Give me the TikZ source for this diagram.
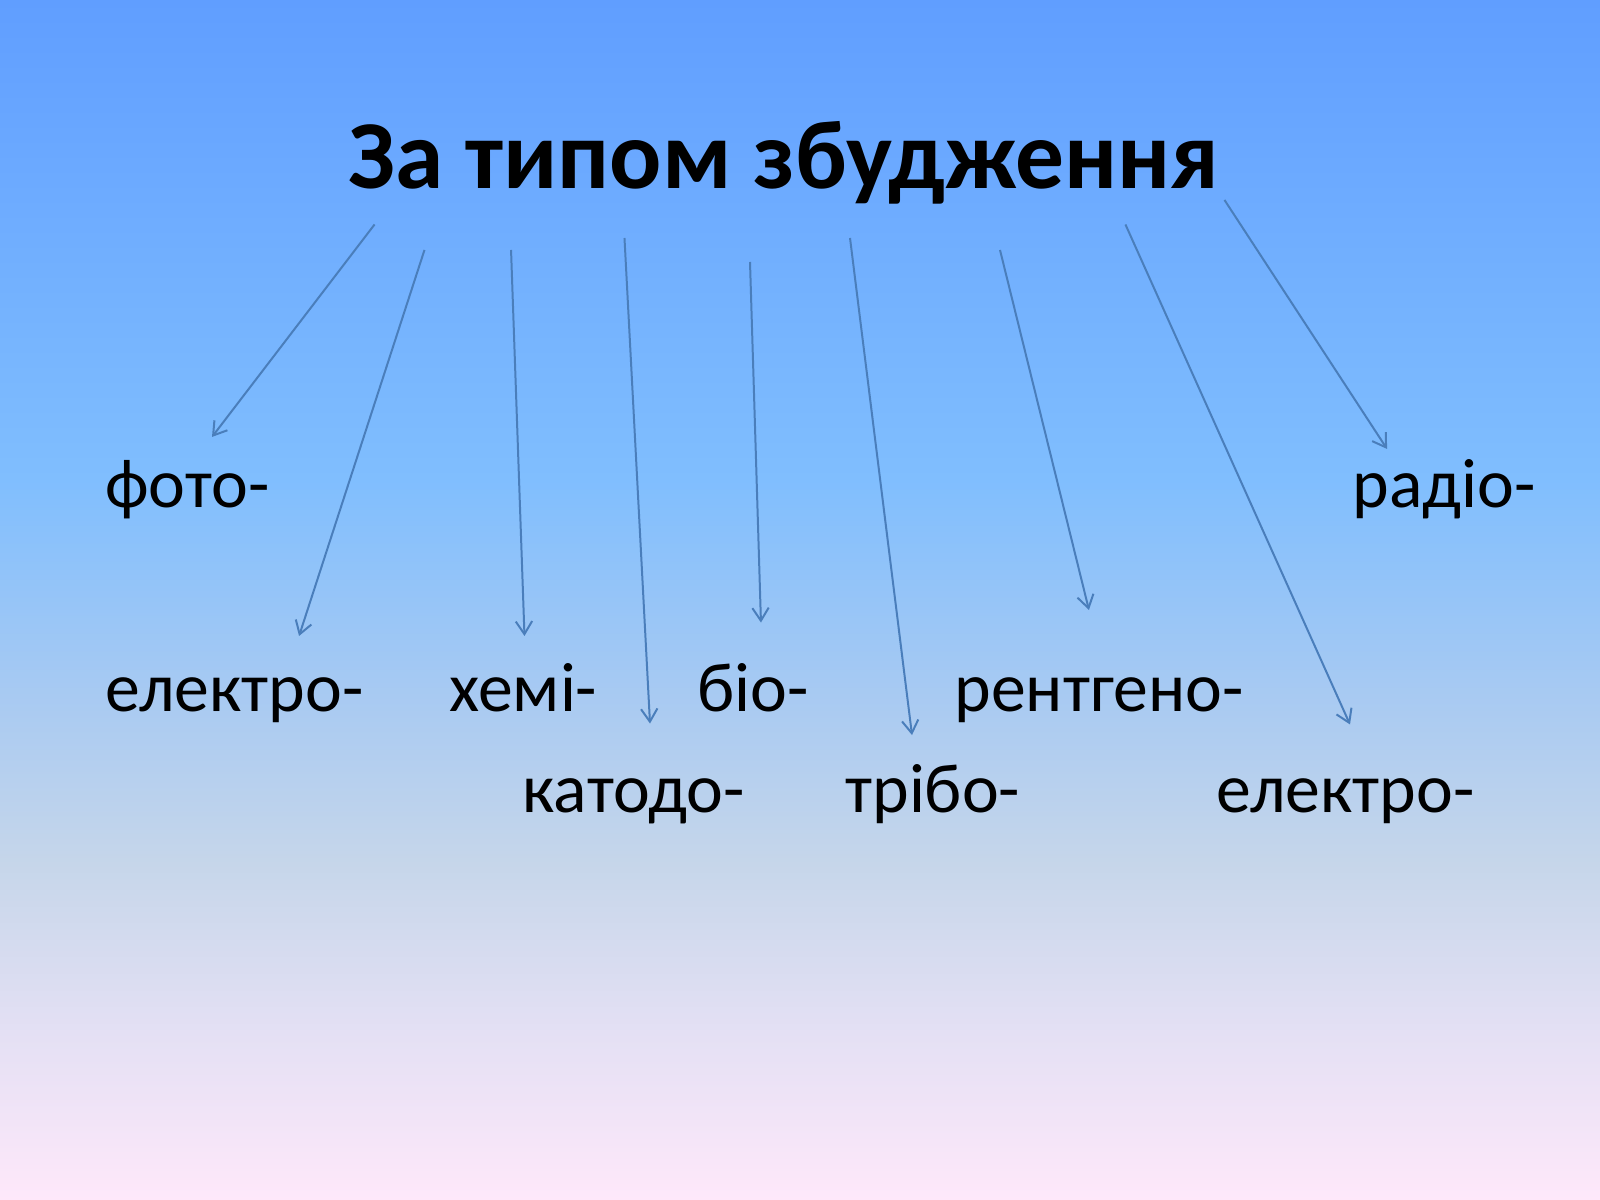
\documentclass[tikz,border=0pt]{standalone}
\usepackage{fontspec}
\setmainfont{Carlito}
\usetikzlibrary{arrows.meta}
\definecolor{bgA}{RGB}{96,158,255}
\definecolor{bgB}{RGB}{128,190,254}
\definecolor{bgC}{RGB}{168,202,242}
\definecolor{bgD}{RGB}{198,214,234}
\definecolor{bgE}{RGB}{228,224,244}
\definecolor{bgF}{RGB}{254,232,250}
\definecolor{linkblue}{RGB}{74,126,187}
\pgfdeclareverticalshading{slidebg}{100bp}{color(0bp)=(bgF); color(25bp)=(bgF);
  color(32bp)=(bgE); color(39bp)=(bgD); color(46bp)=(bgC); color(55bp)=(bgB);
  color(75bp)=(bgA); color(100bp)=(bgA)}
\tikzset{
  word/.style={anchor=base west,inner sep=0pt,font=\fontsize{31.5}{38}\selectfont},
  pointer/.style={draw=linkblue,line width=0.9pt,-{Straight Barb[length=5.8pt,width=7.4pt]}}
}
\begin{document}
\begin{tikzpicture}[x=1in,y=1in]
  \shade[shading=slidebg] (0,0) rectangle (10,7.5);
  \useasboundingbox (0,0) rectangle (10,7.5);

  \node[anchor=base,inner sep=0pt,font=\fontsize{44}{53}\selectfont\bfseries] (title) at (4.9,6.32) {За типом збудження};

  \node[word] (foto) at (0.656,4.331) {фото-};
  \node[word] (radio) at (8.45,4.331) {радіо-};
  \node[word] (elektroA) at (0.656,3.05) {електро-};
  \node[word] (khemi) at (2.806,3.05) {хемі-};
  \node[word] (bio) at (4.356,3.05) {біо-};
  \node[word] (rentgeno) at (5.963,3.05) {рентгено-};
  \node[word] (katodo) at (3.2625,2.419) {катодо-};
  \node[word] (tribo) at (5.281,2.419) {трібо-};
  \node[word] (elektroB) at (7.6,2.419) {електро-};

  \coordinate (t1) at (2.341,6.097);  \coordinate (h1) at (1.325,4.769);
  \coordinate (t2) at (2.653,5.9375); \coordinate (h2) at (1.869,3.525);
  \coordinate (t3) at (3.194,5.9375); \coordinate (h3) at (3.278,3.525);
  \coordinate (t4) at (3.903,6.0125); \coordinate (h4) at (4.0625,2.978);
  \coordinate (t5) at (4.6875,5.8625); \coordinate (h5) at (4.756,3.609);
  \coordinate (t6) at (5.3125,6.0125); \coordinate (h6) at (5.7,2.906);
  \coordinate (t7) at (6.25,5.9375);  \coordinate (h7) at (6.806,3.6875);
  \coordinate (t8) at (7.034,6.097);  \coordinate (h8) at (8.4375,2.972);
  \coordinate (t9) at (7.653,6.25);   \coordinate (h9) at (8.669,4.694);
  \foreach \i in {1,...,9}
    \draw[pointer] (t\i) -- (h\i);
\end{tikzpicture}
\end{document}
